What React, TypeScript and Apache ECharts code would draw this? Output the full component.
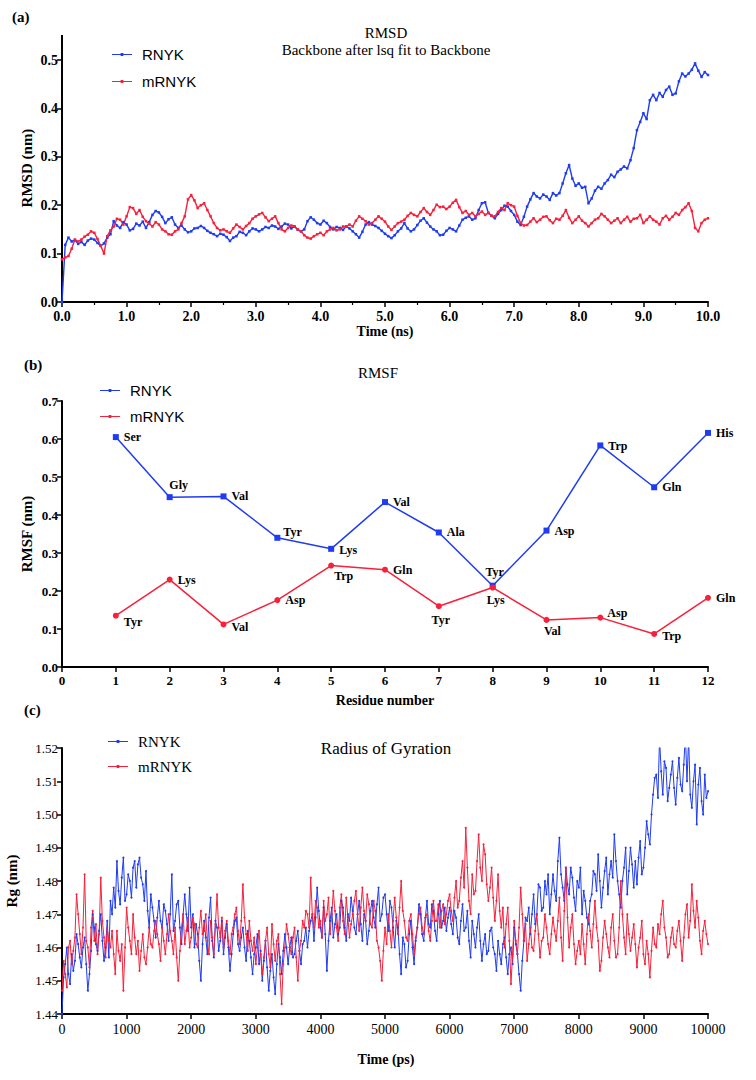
import React, { useEffect, useRef } from 'react';
import * as echarts from 'echarts';

// ---------- DATA ----------
// (a) RMSD, sampled every 0.05 ns from 0 to 10 ns
const RMSD_STEP_NS = 0.05;
const rmsdRNYK = [
  0.000, 0.118, 0.133, 0.125, 0.128, 0.120, 0.124, 0.118, 0.127, 0.131,
  0.129, 0.122, 0.116, 0.121, 0.133, 0.140, 0.167, 0.158, 0.153, 0.165,
  0.160, 0.148, 0.151, 0.162, 0.158, 0.166, 0.153, 0.165, 0.180, 0.188,
  0.185, 0.176, 0.163, 0.171, 0.175, 0.160, 0.153, 0.158, 0.150, 0.144,
  0.146, 0.152, 0.153, 0.157, 0.153, 0.147, 0.143, 0.140, 0.136, 0.141,
  0.139, 0.134, 0.126, 0.133, 0.136, 0.145, 0.143, 0.138, 0.146, 0.152,
  0.150, 0.146, 0.150, 0.155, 0.153, 0.158, 0.156, 0.151, 0.156, 0.162,
  0.160, 0.152, 0.156, 0.149, 0.146, 0.150, 0.167, 0.175, 0.170, 0.163,
  0.160, 0.168, 0.163, 0.155, 0.150, 0.155, 0.153, 0.149, 0.156, 0.152,
  0.146, 0.140, 0.133, 0.145, 0.160, 0.165, 0.160, 0.157, 0.153, 0.147,
  0.141, 0.136, 0.132, 0.138, 0.146, 0.152, 0.163, 0.152, 0.146, 0.150,
  0.159, 0.168, 0.173, 0.164, 0.156, 0.150, 0.146, 0.138, 0.139, 0.147,
  0.153, 0.150, 0.146, 0.158, 0.170, 0.174, 0.177, 0.170, 0.173, 0.190,
  0.204, 0.206, 0.184, 0.178, 0.173, 0.182, 0.190, 0.199, 0.197, 0.188,
  0.180, 0.166, 0.159, 0.176, 0.197, 0.212, 0.225, 0.218, 0.214, 0.222,
  0.218, 0.211, 0.225, 0.220, 0.225, 0.245, 0.266, 0.283, 0.255, 0.240,
  0.245, 0.236, 0.238, 0.204, 0.214, 0.230, 0.238, 0.234, 0.245, 0.252,
  0.263, 0.258, 0.269, 0.274, 0.280, 0.276, 0.293, 0.318, 0.355, 0.372,
  0.390, 0.378, 0.417, 0.428, 0.417, 0.432, 0.424, 0.438, 0.445, 0.428,
  0.431, 0.456, 0.472, 0.466, 0.472, 0.480, 0.493, 0.478, 0.465, 0.475,
  0.469,
];
const rmsdMRNYK = [
  0.088, 0.092, 0.095, 0.110, 0.129, 0.125, 0.129, 0.135, 0.139, 0.146,
  0.143, 0.130, 0.116, 0.100, 0.136, 0.148, 0.156, 0.172, 0.170, 0.160,
  0.177, 0.196, 0.194, 0.182, 0.190, 0.176, 0.167, 0.162, 0.156, 0.165,
  0.160, 0.150, 0.146, 0.140, 0.139, 0.146, 0.150, 0.163, 0.177, 0.212,
  0.221, 0.210, 0.194, 0.200, 0.204, 0.190, 0.177, 0.163, 0.153, 0.148,
  0.150, 0.146, 0.143, 0.152, 0.160, 0.155, 0.150, 0.157, 0.163, 0.172,
  0.177, 0.181, 0.184, 0.175, 0.167, 0.172, 0.177, 0.163, 0.150, 0.146,
  0.153, 0.158, 0.156, 0.150, 0.146, 0.138, 0.133, 0.131, 0.136, 0.140,
  0.143, 0.138, 0.146, 0.150, 0.153, 0.148, 0.150, 0.156, 0.156, 0.160,
  0.156, 0.168, 0.177, 0.172, 0.167, 0.160, 0.163, 0.170, 0.177, 0.172,
  0.166, 0.156, 0.149, 0.156, 0.163, 0.166, 0.170, 0.178, 0.184, 0.180,
  0.177, 0.186, 0.194, 0.186, 0.180, 0.190, 0.201, 0.196, 0.197, 0.192,
  0.197, 0.205, 0.211, 0.196, 0.184, 0.188, 0.180, 0.184, 0.177, 0.182,
  0.187, 0.180, 0.184, 0.178, 0.177, 0.186, 0.194, 0.190, 0.204, 0.200,
  0.197, 0.178, 0.163, 0.158, 0.159, 0.166, 0.173, 0.165, 0.170, 0.176,
  0.177, 0.169, 0.163, 0.172, 0.170, 0.178, 0.190, 0.174, 0.163, 0.170,
  0.177, 0.168, 0.163, 0.156, 0.163, 0.170, 0.173, 0.182, 0.177, 0.170,
  0.163, 0.168, 0.173, 0.163, 0.170, 0.176, 0.166, 0.172, 0.173, 0.180,
  0.163, 0.170, 0.177, 0.170, 0.166, 0.160, 0.173, 0.178, 0.170, 0.176,
  0.184, 0.180, 0.190, 0.196, 0.204, 0.188, 0.153, 0.146, 0.163, 0.170,
  0.173,
];

// (b) RMSF per residue
const residues = [1, 2, 3, 4, 5, 6, 7, 8, 9, 10, 11, 12];
const rmsfRNYK = [0.605, 0.447, 0.449, 0.340, 0.311, 0.434, 0.354, 0.214, 0.359, 0.583, 0.473, 0.616];
const rmsfMRNYK = [0.135, 0.230, 0.112, 0.176, 0.267, 0.256, 0.160, 0.209, 0.124, 0.130, 0.087, 0.182];
const namesRNYK = ['Ser', 'Gly', 'Val', 'Tyr', 'Lys', 'Val', 'Ala', 'Tyr', 'Asp', 'Trp', 'Gln', 'His'];
const namesMRNYK = ['Tyr', 'Lys', 'Val', 'Asp', 'Trp', 'Gln', 'Tyr', 'Lys', 'Val', 'Asp', 'Trp', 'Gln'];

// (c) Radius of gyration, sampled every 25 ps from 0 to 10000 ps
const RG_STEP_PS = 25;
const rgRNYK = [
  1.440, 1.451, 1.455, 1.460, 1.452, 1.449, 1.458, 1.453, 1.456, 1.464, 1.461, 1.457, 1.454, 1.460, 1.463, 1.455, 1.447, 1.452, 1.459, 1.470,
  1.466, 1.461, 1.459, 1.465, 1.470, 1.462, 1.456, 1.460, 1.468, 1.457, 1.474, 1.470, 1.478, 1.472, 1.486, 1.477, 1.473, 1.481, 1.487, 1.474,
  1.476, 1.482, 1.480, 1.475, 1.484, 1.486, 1.478, 1.485, 1.487, 1.481, 1.479, 1.474, 1.483, 1.471, 1.466, 1.476, 1.472, 1.468, 1.463, 1.469,
  1.474, 1.468, 1.466, 1.473, 1.471, 1.467, 1.462, 1.470, 1.482, 1.465, 1.468, 1.473, 1.474, 1.466, 1.461, 1.470, 1.476, 1.470, 1.465, 1.478,
  1.466, 1.470, 1.460, 1.467, 1.464, 1.456, 1.450, 1.461, 1.468, 1.463, 1.458, 1.469, 1.475, 1.462, 1.457, 1.468, 1.466, 1.459, 1.462, 1.468,
  1.458, 1.463, 1.467, 1.460, 1.453, 1.458, 1.464, 1.468, 1.469, 1.461, 1.459, 1.463, 1.466, 1.460, 1.456, 1.465, 1.462, 1.457, 1.452, 1.458,
  1.460, 1.464, 1.455, 1.459, 1.450, 1.456, 1.462, 1.454, 1.447, 1.453, 1.458, 1.451, 1.446, 1.455, 1.461, 1.457, 1.452, 1.459, 1.464, 1.460,
  1.455, 1.460, 1.463, 1.457, 1.458, 1.462, 1.465, 1.459, 1.455, 1.461, 1.462, 1.466, 1.460, 1.465, 1.468, 1.470, 1.462, 1.469, 1.478, 1.471,
  1.466, 1.463, 1.472, 1.464, 1.453, 1.462, 1.468, 1.472, 1.463, 1.467, 1.470, 1.464, 1.466, 1.474, 1.472, 1.466, 1.462, 1.470, 1.468, 1.475,
  1.471, 1.466, 1.464, 1.470, 1.474, 1.467, 1.462, 1.470, 1.468, 1.461, 1.465, 1.471, 1.474, 1.469, 1.466, 1.473, 1.478, 1.468, 1.470, 1.475,
  1.476, 1.470, 1.465, 1.474, 1.472, 1.466, 1.460, 1.468, 1.466, 1.458, 1.452, 1.463, 1.461, 1.454, 1.456, 1.464, 1.468, 1.460, 1.455, 1.462,
  1.466, 1.473, 1.470, 1.464, 1.462, 1.469, 1.474, 1.467, 1.466, 1.473, 1.471, 1.465, 1.462, 1.470, 1.474, 1.466, 1.468, 1.472, 1.465, 1.469,
  1.472, 1.467, 1.464, 1.471, 1.469, 1.463, 1.461, 1.468, 1.473, 1.465, 1.466, 1.471, 1.462, 1.457, 1.468, 1.464, 1.460, 1.466, 1.470, 1.462,
  1.456, 1.461, 1.464, 1.458, 1.459, 1.465, 1.466, 1.460, 1.458, 1.453, 1.462, 1.458, 1.455, 1.461, 1.463, 1.457, 1.452, 1.458, 1.460, 1.455,
  1.466, 1.461, 1.458, 1.452, 1.447, 1.456, 1.462, 1.469, 1.468, 1.472, 1.464, 1.470, 1.476, 1.467, 1.470, 1.479, 1.478, 1.471, 1.472, 1.480,
  1.476, 1.482, 1.470, 1.476, 1.482, 1.477, 1.474, 1.486, 1.493, 1.482, 1.478, 1.474, 1.484, 1.479, 1.476, 1.484, 1.481, 1.475, 1.471, 1.480,
  1.478, 1.484, 1.470, 1.477, 1.474, 1.469, 1.467, 1.474, 1.476, 1.483, 1.482, 1.477, 1.488, 1.480, 1.472, 1.478, 1.483, 1.487, 1.476, 1.482,
  1.486, 1.481, 1.494, 1.486, 1.480, 1.476, 1.472, 1.480, 1.484, 1.490, 1.476, 1.483, 1.490, 1.485, 1.478, 1.486, 1.479, 1.487, 1.492, 1.482,
  1.484, 1.490, 1.498, 1.494, 1.491, 1.500, 1.506, 1.511, 1.512, 1.505, 1.523, 1.513, 1.506, 1.516, 1.514, 1.504, 1.508, 1.512, 1.516, 1.508,
  1.503, 1.511, 1.517, 1.509, 1.507, 1.515, 1.524, 1.510, 1.523, 1.506, 1.502, 1.510, 1.515, 1.497, 1.509, 1.514, 1.504, 1.500, 1.512, 1.505,
  1.507,
];
const rgMRNYK = [
  1.447, 1.456, 1.452, 1.448, 1.460, 1.462, 1.455, 1.459, 1.463, 1.476, 1.470, 1.464, 1.458, 1.466, 1.482, 1.462, 1.460, 1.454, 1.466, 1.471,
  1.462, 1.467, 1.458, 1.464, 1.481, 1.468, 1.463, 1.457, 1.466, 1.462, 1.460, 1.465, 1.458, 1.452, 1.465, 1.459, 1.456, 1.461, 1.447, 1.460,
  1.472, 1.466, 1.462, 1.458, 1.470, 1.463, 1.458, 1.462, 1.453, 1.459, 1.464, 1.457, 1.455, 1.460, 1.466, 1.461, 1.460, 1.465, 1.468, 1.464,
  1.461, 1.456, 1.466, 1.462, 1.458, 1.464, 1.470, 1.465, 1.462, 1.458, 1.466, 1.457, 1.450, 1.459, 1.466, 1.470, 1.461, 1.465, 1.469, 1.460,
  1.463, 1.469, 1.467, 1.461, 1.460, 1.466, 1.471, 1.464, 1.465, 1.470, 1.462, 1.458, 1.468, 1.463, 1.458, 1.467, 1.476, 1.466, 1.463, 1.469,
  1.460, 1.465, 1.468, 1.462, 1.458, 1.464, 1.466, 1.470, 1.472, 1.465, 1.461, 1.468, 1.479, 1.469, 1.464, 1.459, 1.468, 1.462, 1.459, 1.463,
  1.455, 1.460, 1.465, 1.458, 1.452, 1.457, 1.462, 1.466, 1.458, 1.454, 1.467, 1.461, 1.456, 1.462, 1.464, 1.452, 1.443, 1.455, 1.460, 1.467,
  1.464, 1.460, 1.458, 1.463, 1.466, 1.457, 1.450, 1.459, 1.462, 1.468, 1.466, 1.471, 1.470, 1.466, 1.481, 1.470, 1.466, 1.474, 1.472, 1.466,
  1.468, 1.463, 1.474, 1.468, 1.470, 1.475, 1.464, 1.470, 1.477, 1.471, 1.466, 1.462, 1.472, 1.476, 1.468, 1.464, 1.475, 1.469, 1.463, 1.467,
  1.470, 1.474, 1.477, 1.470, 1.465, 1.472, 1.478, 1.471, 1.468, 1.476, 1.473, 1.467, 1.466, 1.474, 1.471, 1.462, 1.460, 1.456, 1.450, 1.459,
  1.466, 1.461, 1.470, 1.465, 1.460, 1.468, 1.475, 1.469, 1.464, 1.472, 1.480, 1.471, 1.468, 1.463, 1.462, 1.468, 1.470, 1.464, 1.458, 1.463,
  1.466, 1.470, 1.472, 1.466, 1.464, 1.469, 1.470, 1.465, 1.462, 1.468, 1.474, 1.468, 1.468, 1.473, 1.466, 1.471, 1.473, 1.467, 1.470, 1.474,
  1.476, 1.471, 1.468, 1.475, 1.480, 1.472, 1.474, 1.481, 1.486, 1.478, 1.496, 1.484, 1.474, 1.470, 1.482, 1.476, 1.477, 1.486, 1.494, 1.484,
  1.480, 1.491, 1.488, 1.479, 1.474, 1.478, 1.484, 1.475, 1.468, 1.474, 1.482, 1.471, 1.466, 1.472, 1.460, 1.467, 1.472, 1.462, 1.449, 1.458,
  1.468, 1.462, 1.458, 1.466, 1.478, 1.470, 1.462, 1.467, 1.456, 1.461, 1.466, 1.460, 1.459, 1.465, 1.470, 1.464, 1.457, 1.462, 1.463, 1.470,
  1.466, 1.461, 1.458, 1.464, 1.469, 1.465, 1.462, 1.468, 1.475, 1.463, 1.456, 1.471, 1.484, 1.469, 1.460, 1.466, 1.470, 1.461, 1.455, 1.459,
  1.462, 1.458, 1.467, 1.461, 1.455, 1.464, 1.470, 1.465, 1.460, 1.467, 1.474, 1.466, 1.462, 1.453, 1.456, 1.463, 1.468, 1.464, 1.460, 1.457,
  1.466, 1.470, 1.462, 1.457, 1.458, 1.466, 1.480, 1.470, 1.463, 1.458, 1.470, 1.464, 1.459, 1.463, 1.467, 1.461, 1.454, 1.460, 1.463, 1.468,
  1.458, 1.455, 1.462, 1.458, 1.451, 1.459, 1.466, 1.461, 1.460, 1.467, 1.464, 1.470, 1.474, 1.466, 1.463, 1.457, 1.458, 1.463, 1.466, 1.461,
  1.460, 1.465, 1.468, 1.462, 1.456, 1.463, 1.470, 1.473, 1.463, 1.468, 1.479, 1.471, 1.466, 1.474, 1.469, 1.462, 1.458, 1.465, 1.468, 1.464,
  1.461,
];

// ---------- STYLE / LAYOUT ----------
const BLUE = '#1f3cf2';
const RED = '#f8203a';
const SERIF = "'Liberation Serif', 'Times New Roman', serif";
const SANS = "'Liberation Sans', Arial, sans-serif";
const LEGEND_ICON = 'path://M0,6.4L20,6.4L20,7.6L0,7.6Z M8.6,5.6L11.4,5.6L11.4,8.4L8.6,8.4Z';

// label placement for panel (b): [position, [dx, dy]]
const blueLabelLayout: any[] = [
  ['right', [0, 0]], ['top', [9, 2]], ['right', [0, 0]], ['right', [-2, -6]],
  ['right', [0, 1]], ['right', [0, 0]], ['right', [0, 0]], ['top', [2, 0]],
  ['right', [0, 0]], ['right', [0, 1]], ['right', [0, 0]], ['right', [0, 0]],
];
const redLabelLayout: any[] = [
  ['right', [0, 6]], ['right', [0, 0]], ['right', [0, 3]], ['right', [0, 0]],
  ['right', [-5, 10]], ['right', [0, 0]], ['bottom', [2, 0]], ['bottom', [3, -2]],
  ['bottom', [6, -3]], ['right', [-1, -5]], ['right', [0, 2]], ['right', [0, 0]],
];

function txt(x: number, y: number, text: string, font: string, align = 'center', rotation = 0) {
  return {
    type: 'text',
    x,
    y,
    rotation,
    silent: true,
    style: {
      text,
      font,
      fill: '#000',
      textAlign: align,
      textVerticalAlign: 'middle',
      align,
      verticalAlign: 'middle',
    },
  };
}

function axisBase(gridIndex: number, labelSize: number, labelWeight: string, fmt: (v: number) => string) {
  return {
    gridIndex,
    type: 'value',
    axisLine: { show: true, onZero: false, lineStyle: { color: '#000', width: 2 } },
    axisTick: { show: true, inside: false, length: 5, lineStyle: { color: '#000', width: 1.5 } },
    splitLine: { show: false },
    axisLabel: {
      color: '#000',
      fontFamily: SERIF,
      fontSize: labelSize,
      fontWeight: labelWeight,
      formatter: fmt,
    },
  };
}

export default function App() {
  const ref = useRef<HTMLDivElement>(null);

  useEffect(() => {
    if (!ref.current) return;
    const chart = echarts.init(ref.current, undefined, { renderer: 'svg' });

    const f1 = (v: number) => v.toFixed(1);
    const f0 = (v: number) => String(Math.round(v));
    const f2 = (v: number) => v.toFixed(2);

    const xA0: any = { ...axisBase(0, 14, 'bold', f1), min: 0, max: 10, interval: 1,
      minorTick: { show: true, splitNumber: 2, length: 3, lineStyle: { color: '#000', width: 1.2 } } };
    xA0.axisLabel.margin = 7;
    const xA1: any = { ...axisBase(1, 13, 'bold', f0), min: 0, max: 12, interval: 1 };
    xA1.axisLabel.margin = 7;
    const xA2: any = { ...axisBase(2, 14, 'normal', f0), min: 0, max: 10000, interval: 1000 };
    xA2.axisLabel.margin = 8;

    const yA0: any = { ...axisBase(0, 14, 'bold', f1), min: 0, max: 0.5, interval: 0.1 };
    yA0.axisLabel.margin = 4;
    const yA1: any = { ...axisBase(1, 13, 'bold', f1), min: 0, max: 0.7, interval: 0.1 };
    yA1.axisLabel.margin = 4;
    const yA2: any = { ...axisBase(2, 13, 'normal', f2), min: 1.44, max: 1.52, interval: 0.01 };
    yA2.axisLabel.margin = 4;

    const lineSeries = (name: string, color: string, xi: number, data: number[][], symbol: string, width: number, size: number) => ({
      name,
      type: 'line',
      xAxisIndex: xi,
      yAxisIndex: xi,
      data,
      symbol,
      symbolSize: size,
      showSymbol: true,
      lineStyle: { color, width },
      itemStyle: { color },
      emphasis: { disabled: true },
      z: 2,
    });

    const rmsfData = (vals: number[], names: string[], layout: any[]) =>
      vals.map((v, i) => ({
        value: [residues[i], v],
        name: names[i],
        label: { position: layout[i][0], offset: layout[i][1] },
      }));

    const rmsfSeries = (name: string, color: string, vals: number[], names: string[], layout: any[], symbol: string) => ({
      name,
      type: 'line',
      xAxisIndex: 1,
      yAxisIndex: 1,
      data: rmsfData(vals, names, layout),
      symbol,
      symbolSize: 6,
      showSymbol: true,
      lineStyle: { color, width: 1.5 },
      itemStyle: { color },
      emphasis: { disabled: true },
      label: {
        show: true,
        formatter: (p: any) => p.name,
        color: '#000',
        fontFamily: SERIF,
        fontSize: 12,
        fontWeight: 'bold',
        distance: 5,
      },
    });

    const legend = (left: number, top: number, gap: number, font: string, size: number) => ({
      show: true,
      left,
      top,
      orient: 'vertical',
      itemWidth: 20,
      itemHeight: 14,
      itemGap: gap,
      selectedMode: false,
      icon: LEGEND_ICON,
      data: ['RNYK', 'mRNYK'],
      textStyle: { fontFamily: font, fontSize: size, color: '#000', padding: [0, 0, 0, 5] },
    });

    const option: any = {
      animation: false,
      backgroundColor: '#fff',
      grid: [
        { left: 62, top: 60, width: 646, height: 242 },
        { left: 62, top: 401, width: 646, height: 266 },
        { left: 62, top: 748, width: 646, height: 266 },
      ],
      xAxis: [xA0, xA1, xA2],
      yAxis: [yA0, yA1, yA2],
      legend: [
        legend(107, 42, 12, SANS, 15),
        legend(95, 378, 11, SANS, 15),
        legend(103, 729, 10, SERIF, 15),
      ],
      series: [
        lineSeries('RNYK', BLUE, 0, rmsdRNYK.map((v, i) => [i * RMSD_STEP_NS, v]), 'rect', 1.4, 2.5),
        lineSeries('mRNYK', RED, 0, rmsdMRNYK.map((v, i) => [i * RMSD_STEP_NS, v]), 'rect', 1.4, 2.5),
        rmsfSeries('RNYK', BLUE, rmsfRNYK, namesRNYK, blueLabelLayout, 'rect'),
        rmsfSeries('mRNYK', RED, rmsfMRNYK, namesMRNYK, redLabelLayout, 'circle'),
        lineSeries('RNYK', BLUE, 2, rgRNYK.map((v, i) => [i * RG_STEP_PS, v]), 'circle', 1, 2),
        lineSeries('mRNYK', RED, 2, rgMRNYK.map((v, i) => [i * RG_STEP_PS, v]), 'circle', 1, 2),
      ],
      graphic: [
        // extension of the RMSD y axis above 0.5
        { type: 'line', silent: true, shape: { x1: 62, y1: 35, x2: 62, y2: 60 }, style: { stroke: '#000', lineWidth: 2 } },
        txt(12, 17, '(a)', `bold 15px ${SERIF}`, 'left'),
        txt(386, 33, 'RMSD', `15px ${SERIF}`),
        txt(386, 50, 'Backbone after lsq fit to Backbone', `15px ${SERIF}`),
        txt(27, 168, 'RMSD (nm)', `bold 15px ${SERIF}`, 'center', Math.PI / 2),
        txt(385, 331, 'Time (ns)', `bold 14px ${SERIF}`),

        txt(24, 365, '(b)', `bold 15px ${SERIF}`, 'left'),
        txt(378, 373, 'RMSF', `15px ${SERIF}`),
        txt(27, 534, 'RMSF (nm)', `bold 15px ${SERIF}`, 'center', Math.PI / 2),
        txt(385, 700, 'Residue number', `bold 14px ${SERIF}`),

        txt(24, 710, '(c)', `bold 15px ${SERIF}`, 'left'),
        txt(386, 748, 'Radius of Gyration', `17px ${SERIF}`),
        txt(12, 881, 'Rg (nm)', `bold 15px ${SERIF}`, 'center', Math.PI / 2),
        txt(386, 1059, 'Time (ps)', `bold 14px ${SERIF}`),
      ],
    };

    chart.setOption(option);
    return () => chart.dispose();
  }, []);

  return (
    <div
      ref={ref}
      style={{ position: 'absolute', left: 0, top: 0, width: 756, height: 1080, background: '#fff' }}
    />
  );
}
